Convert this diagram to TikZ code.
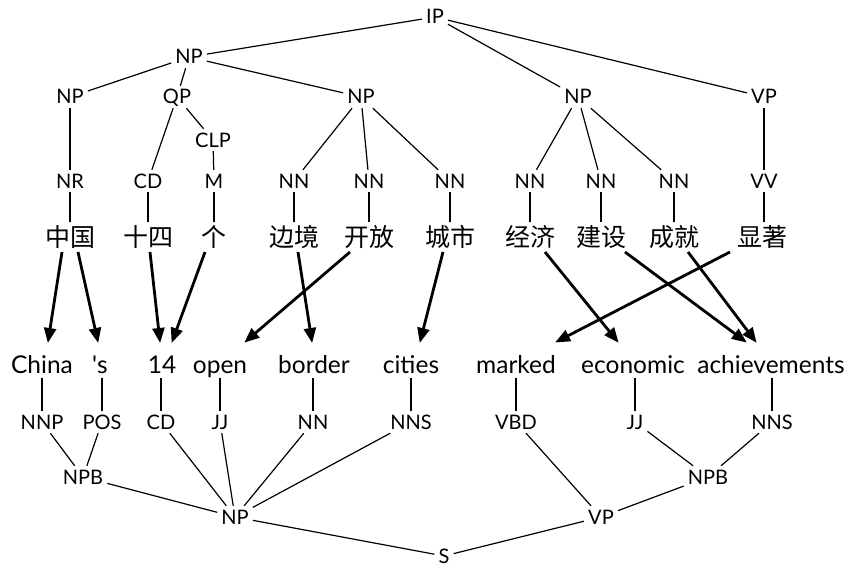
\documentclass[tikz,border=0pt]{standalone}
\usepackage{fontspec}
\setmainfont{Lato}
\newfontfamily\cjk{Noto Sans CJK SC}
\usetikzlibrary{arrows.meta,calc}
\tikzset{
  tag/.style={font=\fontsize{20}{20}\selectfont, text height=14pt, text depth=0pt, inner sep=4pt},
  word/.style={font=\fontsize{24.5}{24.5}\selectfont, text height=17.5pt, text depth=0pt, inner sep=4pt},
  zh/.style={font=\cjk\fontsize{25}{25}\selectfont, text height=21.5pt, text depth=3pt, inner sep=3pt},
  edge/.style={line width=1.2pt},
  align/.style={line width=2.8pt, -{Triangle[length=15pt,width=12pt]}, shorten >=-1pt}
}
\begin{document}
\begin{tikzpicture}[x=1pt,y=-1pt]
\useasboundingbox (0,0) rectangle (846,567);
% top tree
\node[tag] (ip) at (435,17) {IP};
\node[tag] (np0) at (189,57) {NP};
\node[tag] (npA) at (70,97) {NP};
\node[tag] (qp) at (177,97) {QP};
\node[tag] (npB) at (361,97) {NP};
\node[tag] (npC) at (578,97) {NP};
\node[tag] (vpT) at (764,97) {VP};
\node[tag] (clp) at (213,140) {CLP};
\node[tag] (t1) at (70,181) {NR};
\node[tag] (t2) at (148,181) {CD};
\node[tag] (t3) at (214,181) {M};
\node[tag] (t4) at (294,181) {NN};
\node[tag] (t5) at (369,181) {NN};
\node[tag] (t6) at (450,181) {NN};
\node[tag] (t7) at (530,181) {NN};
\node[tag] (t8) at (601,181) {NN};
\node[tag] (t9) at (674,181) {NN};
\node[tag] (t10) at (764,181) {VV};
\node[zh] (z1) at (70,237) {中国};
\node[zh] (z2) at (148,237) {十四};
\node[zh] (z3) at (214,237) {个};
\node[zh] (z4) at (294,237) {边境};
\node[zh] (z5) at (369,237) {开放};
\node[zh] (z6) at (450,237) {城市};
\node[zh] (z7) at (530,237) {经济};
\node[zh] (z8) at (601,237) {建设};
\node[zh] (z9) at (674,237) {成就};
\node[zh] (z10) at (762,237) {显著};
\draw[edge] (ip) -- (np0);
\draw[edge] (ip) -- (npC);
\draw[edge] (ip) -- (vpT);
\draw[edge] (np0) -- (npA);
\draw[edge] (np0) -- (qp);
\draw[edge] (np0) -- (npB);
\draw[edge] (npA) -- (t1);
\draw[edge] (qp) -- (t2);
\draw[edge] (qp) -- (clp);
\draw[edge] (clp) -- (t3);
\draw[edge] (npB) -- (t4);
\draw[edge] (npB) -- (t5);
\draw[edge] (npB) -- (t6);
\draw[edge] (npC) -- (t7);
\draw[edge] (npC) -- (t8);
\draw[edge] (npC) -- (t9);
\draw[edge] (vpT) -- (t10);
\foreach \i in {1,...,9} {\draw[edge] (t\i) -- (t\i |- z\i.north);}
\draw[edge] (t10) -- (z10.north -| t10);
% bottom tree
\node[word] (e1) at (42,365) {China};
\node[word] (e2) at (100,365) {\textquotesingle s};
\node[word] (e3) at (162,365) {14};
\node[word] (e4) at (220,365) {open};
\node[word] (e5) at (314,365) {border};
\node[word] (e6) at (411,365) {cities};
\node[word] (e7) at (516,365) {marked};
\node[word] (e8) at (633,365) {economic};
\node[word] (e9) at (771,365) {achievements};
\node[tag] (b1) at (42,422) {NNP};
\node[tag] (b2) at (102,422) {POS};
\node[tag] (b3) at (161,422) {CD};
\node[tag] (b4) at (220,422) {JJ};
\node[tag] (b5) at (313,422) {NN};
\node[tag] (b6) at (411,422) {NNS};
\node[tag] (b7) at (516,422) {VBD};
\node[tag] (b8) at (635,422) {JJ};
\node[tag] (b9) at (772,422) {NNS};
\node[tag] (npbL) at (83,477) {NPB};
\node[tag] (npL) at (235,517) {NP};
\node[tag] (s) at (444,556) {S};
\node[tag] (vpB) at (601,517) {VP};
\node[tag] (npbR) at (708,477) {NPB};
\foreach \i in {1,...,9} {\draw[edge] (b\i) -- (b\i |- e\i.south);}
\draw[edge] (b1) -- (npbL);
\draw[edge] (b2) -- (npbL);
\draw[edge] (npbL) -- (npL);
\draw[edge] (b3) -- (npL);
\draw[edge] (b4) -- (npL);
\draw[edge] (b5) -- (npL);
\draw[edge] (b6) -- (npL);
\draw[edge] (npL) -- (s);
\draw[edge] (vpB) -- (s);
\draw[edge] (b7) -- (vpB);
\draw[edge] (npbR) -- (vpB);
\draw[edge] (b8) -- (npbR);
\draw[edge] (b9) -- (npbR);
% alignment arrows
\draw[align] ($(z1.center)+(-8,15)$) -- ($(e1.center)+(6,-23)$);
\draw[align] ($(z1.center)+(8,15)$) -- ($(e2.center)+(-2,-23)$);
\draw[align] ($(z2.center)+(2,15)$) -- ($(e3.center)+(-2,-23)$);
\draw[align] ($(z3.center)+(-9,15)$) -- ($(e3.center)+(10,-23)$);
\draw[align] ($(z4.center)+(4,15)$) -- ($(e5.center)+(-2,-23)$);
\draw[align] ($(z5.center)+(-19,15)$) -- ($(e4.center)+(25,-23)$);
\draw[align] ($(z6.center)+(-7,15)$) -- ($(e6.center)+(9,-23)$);
\draw[align] ($(z7.center)+(15,15)$) -- ($(e8.center)+(-15,-23)$);
\draw[align] ($(z8.center)+(24,15)$) -- ($(e9.center)+(-25,-23)$);
\draw[align] ($(z9.center)+(14,15)$) -- ($(e9.center)+(-15,-23)$);
\draw[align] ($(z10.center)+(-32,15)$) -- ($(e7.center)+(40,-23)$);
\end{tikzpicture}
\end{document}
